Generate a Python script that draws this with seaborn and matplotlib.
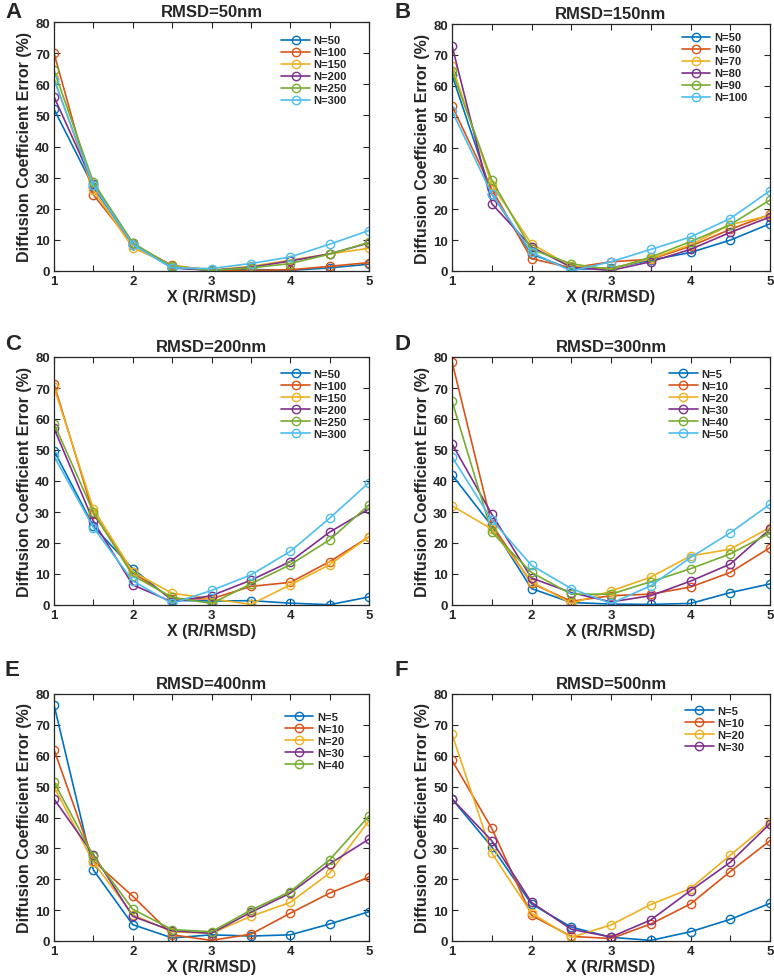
import numpy as np
import pandas as pd
import seaborn as sns
import matplotlib
matplotlib.use("Agg")
import matplotlib.pyplot as plt
from matplotlib.ticker import MultipleLocator

sns.set_style("ticks")
plt.rcParams['font.family'] = ['Liberation Sans', 'DejaVu Sans']
plt.rcParams['font.weight'] = 'bold'

X = [1, 1.5, 2, 2.5, 3, 3.5, 4, 4.5, 5]

# Panel A: RMSD=50nm
a_labels = ["N=50", "N=100", "N=150", "N=200", "N=250", "N=300"]
a_n50 = [52, 27, 8.5, 1, 0.3, 0.5, 0.2, 1, 2.2]
a_n100 = [70, 24.5, 8.5, 1.8, 0.2, 0.2, 0.4, 1.5, 2.7]
a_n150 = [62, 26, 7.5, 1.7, 0.3, 1.5, 3.5, 5.5, 7.3]
a_n200 = [56, 28, 9, 1, 0.2, 1.2, 3.2, 5.5, 9]
a_n250 = [64.5, 28.5, 9, 1.5, 0.2, 1, 2.4, 5.4, 9.2]
a_n300 = [61.5, 27.5, 8.5, 1, 0.8, 2.4, 4.5, 8.6, 13]

# Panel B: RMSD=150nm
b_labels = ["N=50", "N=60", "N=70", "N=80", "N=90", "N=100"]
b_n50 = [63.5, 25, 5.5, 0.5, 1, 3.5, 6, 10, 15.3]
b_n60 = [53.5, 26.5, 4, 1, 3, 3.8, 8, 13.5, 18.3]
b_n70 = [66.5, 28, 8.8, 1.5, 0.8, 4, 8.5, 15, 18]
b_n80 = [73, 21.8, 7.8, 1.2, 0.2, 3, 7, 12.5, 17.5]
b_n90 = [64.8, 29.5, 7, 2.3, 0.5, 4.5, 9.5, 15, 23]
b_n100 = [51.8, 25, 6, 0, 3, 7, 11, 17, 26]

# Panel C: RMSD=200nm
c_labels = ["N=50", "N=100", "N=150", "N=200", "N=250", "N=300"]
c_n50 = [49.8, 25.4, 11.7, 1.5, 1.3, 1.4, 0.6, 0.1, 2.6]
c_n100 = [71.3, 29.5, 10.5, 2, 2, 6, 7.3, 14, 22]
c_n150 = [70.2, 31, 10.7, 3.8, 2, 0.2, 6.5, 13, 22]
c_n200 = [57, 27, 6.5, 1, 3, 8, 14, 23.5, 31]
c_n250 = [58.5, 30, 9.5, 2.5, 0.5, 6.8, 13, 21, 32.3]
c_n300 = [48, 25, 7.8, 0.5, 4.7, 9.7, 17.3, 28, 39.5]

# Panel D: RMSD=300nm
d_labels = ["N=5", "N=10", "N=20", "N=30", "N=40", "N=50"]
d_n5 = [42, 25.5, 5.3, 0.8, 0.3, 0.2, 0.5, 4, 6.8]
d_n10 = [78.5, 26, 7, 1.2, 3, 3.5, 5.8, 10.5, 18.5]
d_n20 = [32, 24.5, 7.5, 0.5, 4.5, 9, 15.8, 18, 25]
d_n30 = [52, 29.3, 8.7, 4, 1, 3, 7.7, 13.2, 24.5]
d_n40 = [65.8, 23.5, 10.5, 3.5, 3.5, 7.5, 11.7, 16.5, 23.2]
d_n50 = [47.8, 27.5, 12.8, 5.3, 0.5, 6.2, 15.3, 23.3, 32.5]

# Panel E: RMSD=400nm
e_labels = ["N=5", "N=10", "N=20", "N=30", "N=40"]
e_n5 = [76.5, 23, 5.3, 1, 2, 1.6, 2, 5.5, 9.5]
e_n10 = [62, 26, 14.5, 2, 0.2, 2.2, 9, 15.5, 20.7]
e_n20 = [50, 25.5, 8.5, 3, 2.5, 8, 12.5, 22, 39]
e_n30 = [46, 28, 8, 3.3, 2.5, 9.3, 15.5, 25, 33]
e_n40 = [51.5, 27.5, 10.3, 3.7, 3, 10, 16, 26.3, 40.5]

# Panel F: RMSD=500nm
f_labels = ["N=5", "N=10", "N=20", "N=30"]
f_n5 = [46, 30.5, 12, 4.5, 1.2, 0.2, 3, 7, 12.2]
f_n10 = [58.5, 36.5, 8.3, 1.5, 0.8, 5.5, 12, 22.5, 32.5]
f_n20 = [67, 28.5, 9, 1.2, 5.2, 11.8, 17, 27.8, 38.5]
f_n30 = [46, 32.5, 12.5, 3.8, 1.3, 6.8, 16.3, 25.5, 38]

titles = ["RMSD=50nm", "RMSD=150nm", "RMSD=200nm", "RMSD=300nm", "RMSD=400nm", "RMSD=500nm"]
letters = ["A", "B", "C", "D", "E", "F"]
panels = [
    (a_labels, [a_n50, a_n100, a_n150, a_n200, a_n250, a_n300]),
    (b_labels, [b_n50, b_n60, b_n70, b_n80, b_n90, b_n100]),
    (c_labels, [c_n50, c_n100, c_n150, c_n200, c_n250, c_n300]),
    (d_labels, [d_n5, d_n10, d_n20, d_n30, d_n40, d_n50]),
    (e_labels, [e_n5, e_n10, e_n20, e_n30, e_n40]),
    (f_labels, [f_n5, f_n10, f_n20, f_n30]),
]
colors = ["#0072BD", "#D95319", "#EDB120", "#7E2F8E", "#77AC30", "#4DBEEE"]

W, H = 774, 978
fig = plt.figure(figsize=(W / 100, H / 100), dpi=100)

# pixel boxes: left, right, top, bottom
boxes = [
    (54, 369, 23, 272), (452, 770, 25, 272),
    (54, 369, 358, 606), (452, 770, 358, 606),
    (54, 369, 695, 942), (452, 770, 695, 942),
]
leg_anchor = [(0.715, 0.955), (0.715, 0.975), (0.715, 0.96), (0.675, 0.96), (0.725, 0.935), (0.725, 0.96)]
letter_pos = [(5, 2), (394, 2), (5, 334), (394, 334), (5, 660), (394, 660)]

for i, (labels, series) in enumerate(panels):
    l, r, t, b = boxes[i]
    ax = fig.add_axes([l / W, 1 - b / H, (r - l) / W, (b - t) / H])
    for j, (lab, vals) in enumerate(zip(labels, series)):
        df = pd.DataFrame({"x": X, "y": vals})
        sns.lineplot(data=df, x="x", y="y", ax=ax, color=colors[j], linewidth=1.2,
                     marker="o", markersize=6, markerfacecolor="none",
                     markeredgecolor=colors[j], markeredgewidth=1.0, label=lab)
    ax.set_xlim(1, 5)
    ax.set_ylim(0, 80)
    ax.xaxis.set_major_locator(MultipleLocator(1))
    ax.xaxis.set_minor_locator(MultipleLocator(0.5))
    ax.yaxis.set_major_locator(MultipleLocator(10))
    ax.tick_params(which="both", direction="in", top=True, right=True, length=4, width=0.8, labelsize=9.5, pad=3)
    for lbl in ax.get_xticklabels() + ax.get_yticklabels():
        lbl.set_fontweight("bold")
    for s in ax.spines.values():
        s.set_linewidth(0.9)
        s.set_color("#262626")
    ax.set_xlabel("X (R/RMSD)", fontsize=11.5, fontweight="bold", labelpad=1)
    ax.set_ylabel("Diffusion Coefficient Error (%)", fontsize=11.5, fontweight="bold", labelpad=2)
    ax.set_title(titles[i], fontsize=12, fontweight="bold", pad=4)
    leg = ax.legend(loc="upper left", bbox_to_anchor=leg_anchor[i], frameon=False,
                    fontsize=8, handlelength=2.6, labelspacing=0.18, handletextpad=0.3,
                    borderaxespad=0, borderpad=0.2)
    for txt in leg.get_texts():
        txt.set_fontweight("bold")
    lx, ly = letter_pos[i]
    fig.text(lx / W, 1 - ly / H, letters[i], fontsize=16, fontweight="bold", va="top", ha="left")

fig.savefig("out.png", dpi=100)
